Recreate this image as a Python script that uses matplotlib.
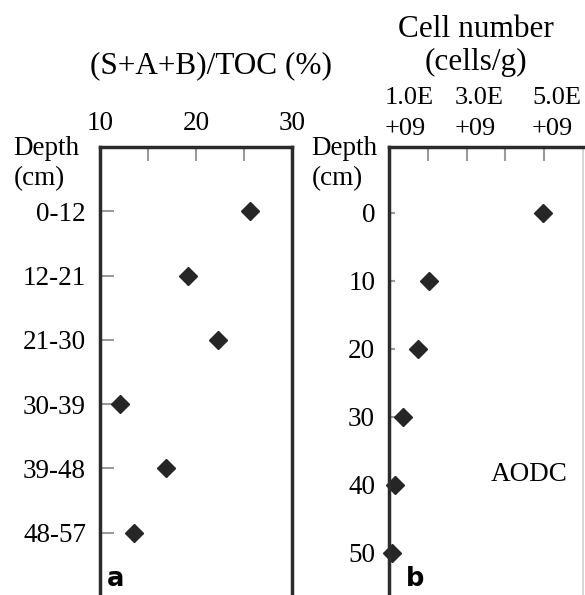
import numpy as np
import matplotlib.pyplot as plt

# panel a: (S+A+B)/TOC by depth interval
depth_intervals = ["0-12", "12-21", "21-30", "30-39", "39-48", "48-57"]
sab_toc = [25.6, 19.2, 22.3, 12.1, 16.9, 13.5]

# panel b: AODC cell number by depth
depth_cm = [0, 10, 20, 30, 40, 50]
cell_number = [3.97e9, 1.02e9, 0.76e9, 0.36e9, 0.15e9, 0.07e9]
cell_tick_labels = ["1.0E\n+09", "3.0E\n+09", "5.0E\n+09"]
cell_tick_values = [1e9, 3e9, 5e9]

plt.rcParams['font.family'] = ['Liberation Serif', 'DejaVu Serif']
W, H = 585, 595
fig = plt.figure(figsize=(W / 100, H / 100), dpi=100)

spine_col = "#2b2b2b"
tick_col = "#9a9a9a"
mark_col = "#262626"
fs = 19.5


def px_axes(x0, x1, y0, y1):
    return fig.add_axes([x0 / W, 1 - y1 / H, (x1 - x0) / W, (y1 - y0) / H])


# ---- panel a
ax1 = px_axes(100, 292, 147, 595)
ypos = np.arange(len(depth_intervals))
ax1.plot(sab_toc, ypos, "D", color=mark_col, markersize=9.5, clip_on=False)
ax1.set_xlim(10, 30)
ax1.set_ylim(5.97, -1.0)
ax1.xaxis.tick_top()
ax1.set_xticks([10, 20, 30])
ax1.set_xticks([15, 25], minor=True)
ax1.set_yticks(ypos)
ax1.set_yticklabels(depth_intervals)
ax1.tick_params(axis="both", which="both", direction="in", length=10, width=1.5,
                color=tick_col, labelsize=fs)
ax1.tick_params(axis="x", which="major", pad=8)
ax1.tick_params(axis="y", pad=10)
for s in ["top", "left", "right"]:
    ax1.spines[s].set_linewidth(2.5)
    ax1.spines[s].set_color(spine_col)
ax1.spines["bottom"].set_visible(False)
ax1.text(-0.45, 0.963, "Depth\n(cm)", transform=ax1.transAxes, fontsize=fs,
         ha="left", va="center", linespacing=1.3)
ax1.text(0.58, 1.182, "(S+A+B)/TOC (%)", transform=ax1.transAxes, fontsize=22.5,
         ha="center", va="center")
ax1.text(0.035, 0.035, "a", transform=ax1.transAxes, fontsize=18.5, fontweight="bold",
         family="DejaVu Sans", ha="left", va="center")

# ---- panel b
ax2 = px_axes(389, 583, 147, 595)
ax2.plot(cell_number, depth_cm, "D", color=mark_col, markersize=9.5, clip_on=False)
ax2.set_xlim(0, 5e9)
ax2.set_ylim(56.2, -9.7)
ax2.xaxis.tick_top()
ax2.set_xticks([1e9, 2e9, 3e9, 4e9])
ax2.set_xticklabels([])
ax2.set_yticks(depth_cm)
ax2.tick_params(axis="both", direction="in", length=10, width=1.5, color=tick_col,
                labelsize=fs)
ax2.tick_params(axis="y", length=4, pad=10)
for s in ["top", "left", "right"]:
    ax2.spines[s].set_linewidth(2.5)
    ax2.spines[s].set_color(spine_col)
ax2.spines["right"].set_linewidth(1.2)
ax2.spines["right"].set_color("#cfcfcf")
ax2.spines["bottom"].set_visible(False)
# label offsets (in data units) as the labels sit in the original
label_shift = [0.15e9, -0.05e9, -0.05e9]
for v, lab, dv in zip(cell_tick_values, cell_tick_labels, label_shift):
    ax2.text(v + dv, 1.016, lab, transform=ax2.get_xaxis_transform(), fontsize=19,
             ha="right", va="bottom", multialignment="left", linespacing=1.5)
ax2.text(-0.4, 0.963, "Depth\n(cm)", transform=ax2.transAxes, fontsize=fs,
         ha="left", va="center", linespacing=1.3)
ax2.text(0.45, 1.226, "Cell number\n(cells/g)", transform=ax2.transAxes, fontsize=22.5,
         ha="center", va="center", linespacing=1.2)
ax2.text(0.72, 0.27, "AODC", transform=ax2.transAxes, fontsize=fs,
         ha="center", va="center")
ax2.text(0.085, 0.035, "b", transform=ax2.transAxes, fontsize=18.5, fontweight="bold",
         family="DejaVu Sans", ha="left", va="center")

fig.savefig("out.png", dpi=100)
